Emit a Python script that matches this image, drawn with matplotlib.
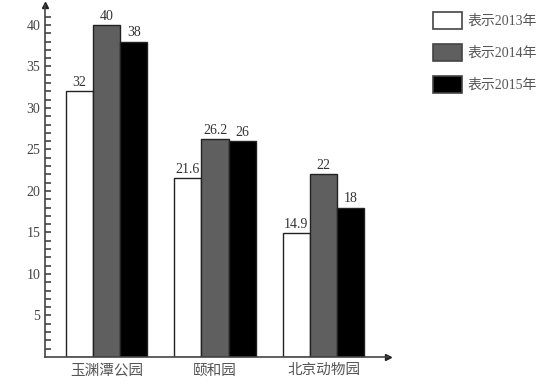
import numpy as np
import matplotlib.pyplot as plt
from matplotlib.patches import Rectangle

plt.rcParams['font.family'] = ['Liberation Serif', 'Noto Sans CJK SC']

# données
parcs = ['玉渊潭公园', '颐和园', '北京动物园']
v2013 = [32, 21.6, 14.9]
v2014 = [40, 26.2, 22]
v2015 = [38, 26, 18]
labels_2013 = ['32', '21.6', '14.9']
labels_2014 = ['40', '26.2', '22']
labels_2015 = ['38', '26', '18']
legende = ['表示2013年', '表示2014年', '表示2015年']
couleurs = ['white', '#5f5f5f', 'black']

fig = plt.figure(figsize=(5.38, 3.85), dpi=100)
ax = fig.add_axes([45 / 538, 1 - 357 / 385, (388 - 45) / 538, (357 - 5) / 385])

x = np.arange(len(parcs))
w = 0.25
series = [v2013, v2014, v2015]
textes = [labels_2013, labels_2014, labels_2015]
for i, (vals, txt) in enumerate(zip(series, textes)):
    bars = ax.bar(x + (i - 1) * w, vals, width=w, color=couleurs[i],
                  edgecolor='#222222', linewidth=1.0)
    for b, t in zip(bars, txt):
        ax.annotate(t, (b.get_x() + b.get_width() / 2, b.get_height()),
                    textcoords='offset points', xytext=(0, 1.5),
                    ha='center', va='bottom', fontsize=10, color='#333333')

ax.set_xlim(-0.567, 2.594)
ax.set_ylim(0, 42.4)
ax.set_xticks(x)
ax.set_xticklabels(parcs, fontsize=10.5, color='#555555')
ax.tick_params(axis='x', length=0, pad=5)
ax.set_yticks(np.arange(5, 41, 5))
ax.set_yticks(np.arange(1, 42, 1), minor=True)
ax.tick_params(axis='y', which='both', direction='in', length=4, width=1.2,
               labelsize=10, labelcolor='#444444', color='#444444')
for s in ['top', 'right']:
    ax.spines[s].set_visible(False)
for s in ['left', 'bottom']:
    ax.spines[s].set_color('#444444')
    ax.spines[s].set_linewidth(1.2)
ax.plot(0, 1, '^', color='#222222', markersize=5, transform=ax.transAxes, clip_on=False)
ax.plot(1, 0, '>', color='#222222', markersize=5, transform=ax.transAxes, clip_on=False)

# légende dessinée à la main
for i, (lab, c) in enumerate(zip(legende, couleurs)):
    y0 = 1 - (13 + i * 32 + 16) / 385
    fig.patches.append(Rectangle((433 / 538, y0), 29 / 538, 17 / 385,
                                 transform=fig.transFigure, facecolor=c,
                                 edgecolor='#444444', linewidth=1.2))
    fig.text(468 / 538, y0 + 8.5 / 385, lab, fontsize=10, color='#555555', va='center')

fig.savefig('out.png', dpi=100)
